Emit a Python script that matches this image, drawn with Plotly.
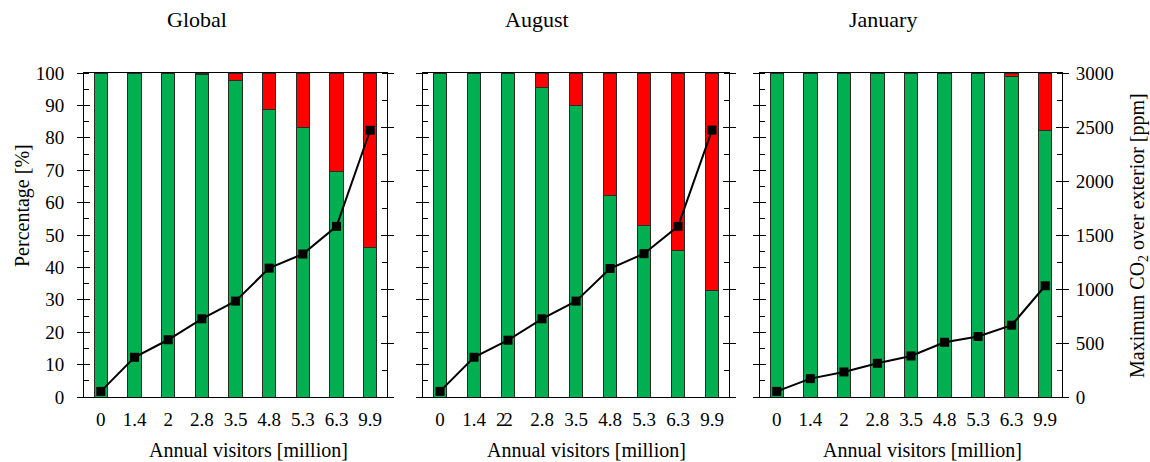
import plotly.graph_objects as go

categories = ["0", "1.4", "2", "2.8", "3.5", "4.8", "5.3", "6.3", "9.9"]
panel_titles = ["Global", "August", "January"]

global_green = [100, 100, 100, 99.4, 97.6, 88.7, 83.1, 69.7, 46.1]
august_green = [100, 100, 100, 95.6, 90.1, 62.3, 53.0, 45.3, 33.0]
january_green = [100, 100, 100, 100, 100, 100, 100, 98.8, 82.2]

global_co2 = [52, 368, 530, 724, 888, 1193, 1324, 1580, 2470]
august_co2 = [52, 368, 526, 724, 888, 1190, 1327, 1580, 2471]
january_co2 = [52, 170, 232, 312, 380, 507, 560, 665, 1030]

pct_ticks = [0, 10, 20, 30, 40, 50, 60, 70, 80, 90, 100]
ppm_ticks = [0, 500, 1000, 1500, 2000, 2500, 3000]

greens = [global_green, august_green, january_green]
co2s = [global_co2, august_co2, january_co2]

W, H = 1150, 462
FONT = "Liberation Serif, Times New Roman, serif"
GREEN = "#00B050"
RED = "#FF0000"
EDGE = "#2a2a2a"


def px_x(v):
    return v / W


def px_y(v):
    return 1 - v / H


x_px = [(84, 387), (423, 729), (760, 1062)]
y_px = (73, 397)
ydom = [px_y(y_px[1]), px_y(y_px[0])]

fig = go.Figure()
layout = {}


def yname(n):
    return "y" if n == 1 else f"y{n}"


def ykey(n):
    return "yaxis" if n == 1 else f"yaxis{n}"


for p in range(3):
    xn = p + 1
    xa = "x" if xn == 1 else f"x{xn}"
    yL, yLi, yR, yRi = 4 * p + 1, 4 * p + 2, 4 * p + 3, 4 * p + 4
    green = greens[p]
    red = [100 - g for g in green]

    fig.add_trace(go.Bar(x=categories, y=green, xaxis=xa, yaxis=yname(yL),
                         marker=dict(color=GREEN, line=dict(color=EDGE, width=1)),
                         width=0.4, showlegend=False, hoverinfo="skip"))
    fig.add_trace(go.Bar(x=categories, y=red, xaxis=xa, yaxis=yname(yL),
                         marker=dict(color=RED, line=dict(color=EDGE, width=1)),
                         width=0.4, showlegend=False, hoverinfo="skip"))
    # empty traces to activate the inner-tick overlay axes
    fig.add_trace(go.Scatter(x=[categories[0]], y=[None], xaxis=xa, yaxis=yname(yLi),
                             mode="lines", showlegend=False, hoverinfo="skip"))
    fig.add_trace(go.Scatter(x=[categories[0]], y=[None], xaxis=xa, yaxis=yname(yRi),
                             mode="lines", showlegend=False, hoverinfo="skip"))
    fig.add_trace(go.Scatter(x=categories, y=co2s[p], xaxis=xa, yaxis=yname(yR),
                             mode="lines+markers",
                             line=dict(color="black", width=2),
                             marker=dict(symbol="square", size=9, color="black"),
                             showlegend=False, hoverinfo="skip"))

    dom = [px_x(x_px[p][0]), px_x(x_px[p][1])]
    layout["xaxis" if xn == 1 else f"xaxis{xn}"] = dict(
        domain=dom, anchor=yname(yL), type="category", range=[-0.5, 8.5],
        showline=True, mirror=True, linecolor="black", linewidth=1,
        ticks="", showgrid=False, zeroline=False, automargin=False,
        tickfont=dict(family=FONT, size=19, color="black"),
        ticklabelstandoff=5,
    )
    layout[ykey(yL)] = dict(
        domain=ydom, anchor=xa, range=[0, 100], tickvals=pct_ticks,
        ticks="outside", ticklen=6, tickcolor="black", tickwidth=1,
        minor=dict(ticks="inside", ticklen=5, dtick=5, tickcolor="black", showgrid=False),
        showline=True, linecolor="black", linewidth=1, showgrid=False, zeroline=False,
        showticklabels=(p == 0), automargin=False, ticklabelstandoff=9,
        tickfont=dict(family=FONT, size=19, color="black"),
    )
    layout[ykey(yLi)] = dict(
        overlaying=yname(yL), anchor=xa, side="left", range=[0, 100], tickvals=pct_ticks,
        ticks="inside", ticklen=6, tickcolor="black", tickwidth=1,
        showline=False, showgrid=False, zeroline=False, showticklabels=False,
        automargin=False,
    )
    layout[ykey(yR)] = dict(
        overlaying=yname(yL), anchor=xa, side="right", range=[0, 3000], tickvals=ppm_ticks,
        ticks="outside", ticklen=6, tickcolor="black", tickwidth=1,
        minor=dict(ticks="inside", ticklen=5, dtick=250, tickcolor="black", showgrid=False),
        showline=True, linecolor="black", linewidth=1, showgrid=False, zeroline=False,
        showticklabels=(p == 2), automargin=False, ticklabelstandoff=3,
        tickfont=dict(family=FONT, size=19, color="black"),
    )
    layout[ykey(yRi)] = dict(
        overlaying=yname(yL), anchor=xa, side="right", range=[0, 3000], tickvals=ppm_ticks,
        ticks="inside", ticklen=6, tickcolor="black", tickwidth=1,
        showline=False, showgrid=False, zeroline=False, showticklabels=False,
        automargin=False,
    )

annotations = []
title_px = [197, 537, 883]
xtitle_px = [248, 586, 922]
for p in range(3):
    annotations.append(dict(text=panel_titles[p], x=px_x(title_px[p]), y=px_y(20),
                            xref="paper", yref="paper", xanchor="center", yanchor="middle",
                            showarrow=False, font=dict(family=FONT, size=22, color="black")))
    annotations.append(dict(text="Annual visitors [million]", x=px_x(xtitle_px[p]), y=px_y(450),
                            xref="paper", yref="paper", xanchor="center", yanchor="middle",
                            showarrow=False, font=dict(family=FONT, size=20, color="black")))
annotations.append(dict(text="Percentage [%]", x=px_x(22), y=px_y(206), textangle=-90,
                        xref="paper", yref="paper", xanchor="center", yanchor="middle",
                        showarrow=False, font=dict(family=FONT, size=20, color="black")))
annotations.append(dict(text="Maximum CO<sub>2</sub> over exterior [ppm]", x=px_x(1138), y=px_y(236),
                        textangle=-90, xref="paper", yref="paper", xanchor="center", yanchor="middle",
                        showarrow=False, font=dict(family=FONT, size=20, color="black")))
# duplicated "2" label seen in the August panel
annotations.append(dict(text="2", x="2", y=0, xref="x2", yref="y5", xshift=-7,
                        yanchor="middle", yshift=-22, showarrow=False,
                        font=dict(family=FONT, size=19, color="black")))

fig.update_layout(
    width=W, height=H, margin=dict(l=0, r=0, t=0, b=0),
    paper_bgcolor="white", plot_bgcolor="white",
    barmode="stack", bargap=0.6,
    annotations=annotations, **layout,
)

fig.write_html(
    "out.html",
    config=dict(displayModeBar=False),
    post_script="document.body.style.margin='0';document.body.style.overflow='hidden';",
)
